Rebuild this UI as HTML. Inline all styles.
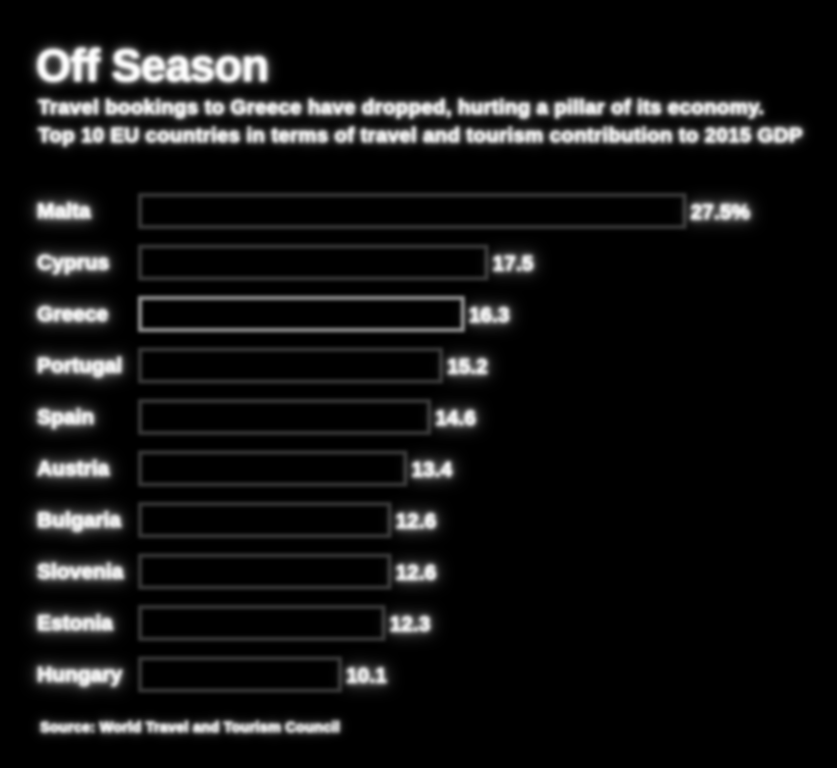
<!DOCTYPE html>
<html><head><meta charset="utf-8"><style>
html,body{margin:0;padding:0;background:#000;width:837px;height:768px;overflow:hidden}
body{font-family:"Liberation Sans",sans-serif;color:#fff;filter:blur(1.8px)}
.t{text-shadow:0 0 4px rgba(255,255,255,.8),0 0 10px rgba(255,255,255,.5),0 0 16px rgba(255,255,255,.3);-webkit-text-stroke:0.8px #fff}
#title{position:absolute;left:36px;top:40px;font-size:45px;font-weight:bold;letter-spacing:-0.5px}
.sub{position:absolute;left:38px;font-size:20.5px;font-weight:bold;white-space:nowrap;letter-spacing:0.3px}
#src{position:absolute;left:40px;top:720px;font-size:14.5px;font-weight:bold;letter-spacing:0.2px}
svg{position:absolute;left:0;top:0}
</style></head><body>
<div id="title" class="t">Off Season</div>
<div class="sub t" style="top:96px">Travel bookings to Greece have dropped, hurting a pillar of its economy.</div>
<div class="sub t" style="top:124px">Top 10 EU countries in terms of travel and tourism contribution to 2015 GDP</div>
<svg id="chart" width="837" height="768"></svg>
<div id="src" class="t">Source: World Travel and Tourism Council</div>
<script>
const countries=["Malta","Cyprus","Greece","Portugal","Spain","Austria","Bulgaria","Slovenia","Estonia","Hungary"];
const values=[27.5,17.5,16.3,15.2,14.6,13.4,12.6,12.6,12.3,10.1];
const labels=["27.5%","17.5","16.3","15.2","14.6","13.4","12.6","12.6","12.3","10.1"];
const NS="http://www.w3.org/2000/svg";
const svg=document.getElementById('chart');
const x0=140,scale=19.8,y0=211,step=51.5,bh=32;
const xs=v=>x0+v*scale, ys=i=>y0+i*step;
const glow='filter:drop-shadow(0 0 3px rgba(255,255,255,.8)) drop-shadow(0 0 8px rgba(255,255,255,.5))';
countries.forEach((c,i)=>{
  const y=ys(i);
  const r=document.createElementNS(NS,'rect');
  r.setAttribute('x',x0);r.setAttribute('y',y-bh/2);
  r.setAttribute('width',xs(values[i])-x0);r.setAttribute('height',bh);
  r.setAttribute('fill','#000');
  r.setAttribute('stroke',c==="Greece"?'#999':'#3a3a3a');r.setAttribute('stroke-width',4);
  
  
  svg.appendChild(r);
  const t=document.createElementNS(NS,'text');
  t.setAttribute('x',37);t.setAttribute('y',y+7);
  t.setAttribute('fill','#fff');t.setAttribute('stroke','#fff');t.setAttribute('stroke-width','0.8');
  t.setAttribute('font-size','21');t.setAttribute('font-weight','bold');
  t.setAttribute('style',glow);
  t.textContent=c;
  
  
  svg.appendChild(t);
  const v=document.createElementNS(NS,'text');
  v.setAttribute('x',xs(values[i])+6);v.setAttribute('y',y+8);
  v.setAttribute('fill','#fff');v.setAttribute('stroke','#fff');v.setAttribute('stroke-width','0.8');
  v.setAttribute('font-size','21');v.setAttribute('font-weight','bold');
  v.setAttribute('style',glow);
  v.textContent=labels[i];
  
  
  svg.appendChild(v);
});
</script>
</body></html>
